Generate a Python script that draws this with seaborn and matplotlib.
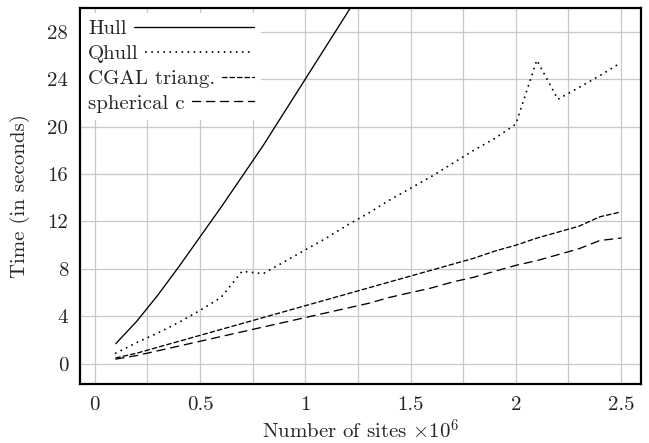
import matplotlib
matplotlib.use("Agg")
import matplotlib.pyplot as plt
import seaborn as sns
import pandas as pd
from matplotlib.ticker import MultipleLocator
from matplotlib.lines import Line2D

x_sites = [0.1, 0.2, 0.3, 0.4, 0.5, 0.6, 0.7, 0.8, 0.9, 1.0, 1.1, 1.2, 1.3,
           1.4, 1.5, 1.6, 1.7, 1.8, 1.9, 2.0, 2.1, 2.2, 2.3, 2.4, 2.5]
hull = [1.7, 3.6, 5.8, 8.2, 10.7, 13.2, 15.8, 18.4, 21.2, 24.0, 26.8, 29.6, 32.5]
qhull = [0.9, 1.8, 2.6, 3.5, 4.5, 5.6, 7.8, 7.6, 8.6, 9.6, 10.6, 11.7, 12.7,
         13.8, 14.8, 15.8, 16.9, 18.0, 19.0, 20.2, 25.6, 22.3, 23.3, 24.3, 25.4]
cgal = [0.5, 0.9, 1.4, 1.9, 2.4, 2.9, 3.4, 3.9, 4.4, 4.9, 5.4, 5.9, 6.4,
        6.9, 7.4, 7.9, 8.4, 8.9, 9.5, 10.0, 10.6, 11.1, 11.6, 12.4, 12.8]
spherical = [0.4, 0.7, 1.1, 1.5, 1.9, 2.3, 2.7, 3.1, 3.5, 3.9, 4.3, 4.7, 5.1,
             5.6, 6.0, 6.4, 6.9, 7.3, 7.8, 8.3, 8.7, 9.2, 9.7, 10.4, 10.6]
labels = ["Hull", "Qhull", "CGAL triang.", "spherical c"]
x_ticks = [0, 0.5, 1, 1.5, 2, 2.5]
x_tick_labels = ["0", "0.5", "1", "1.5", "2", "2.5"]
y_ticks = [0, 4, 8, 12, 16, 20, 24, 28]

FS = 15

sns.set_theme(style="white")
plt.rcParams["font.family"] = ["cmr10", "DejaVu Serif"]
plt.rcParams["mathtext.fontset"] = "cm"
plt.rcParams["axes.formatter.use_mathtext"] = True

fig = plt.figure(figsize=(6.49, 4.43), dpi=100)
ax = fig.add_axes([0.1233, 0.1332, 0.8644, 0.8488])

series = [hull, qhull, cgal, spherical]
lws = [0.95, 1.4, 0.95, 0.95]
styles = ["-", (0, (0.01, 3.1)), (0, (3.4, 2.3)), (0, (6.2, 4.4))]
for lab, vals, ls, lw in zip(labels, series, styles, lws):
    df = pd.DataFrame({"x": x_sites[:len(vals)], "y": vals})
    sns.lineplot(data=df, x="x", y="y", ax=ax, color="black", linewidth=lw,
                 linestyle=ls, label=lab, dash_capstyle="round")

ax.set_xlim(-0.07, 2.595)
ax.set_ylim(-1.7, 30)
ax.set_xticks(x_ticks)
ax.set_xticklabels(x_tick_labels)
ax.set_yticks(y_ticks)
ax.set_yticklabels([str(v) for v in y_ticks])
ax.xaxis.set_minor_locator(MultipleLocator(0.25))
ax.grid(True, which="both", axis="x", color="#c8c8c8", linewidth=0.9)
ax.grid(True, which="major", axis="y", color="#c8c8c8", linewidth=0.9)
ax.tick_params(axis="both", which="both", length=0, labelsize=FS, pad=8.5)
for s in ax.spines.values():
    s.set_color("black")
    s.set_linewidth(1.6)

ax.set_xlabel(r"Number of sites $\times10^6$", fontsize=FS, labelpad=3.5)
ax.set_ylabel("Time (in seconds)", fontsize=FS, labelpad=12.5)

leg = ax.legend(loc="upper left", bbox_to_anchor=(0.0, 0.99), markerfirst=False,
                frameon=True, fontsize=FS,
                handlelength=4.0, handletextpad=0.34, labelspacing=0.3,
                borderaxespad=0.05, borderpad=0.33, fancybox=False)
leg.get_frame().set_edgecolor("none")
leg.get_frame().set_facecolor("white")
leg.get_frame().set_alpha(1.0)

# left-align legend text, let each handle fill the rest of the row
fig.canvas.draw()
renderer = fig.canvas.get_renderer()
px_per_pt = fig.dpi / 72.0
total_px = 166.0
sep_px = FS * 0.34 * px_per_pt
for col in leg._legend_handle_box.get_children():
    col.align = "left"
    for item in col.get_children():
        text_box, handle_box = item.get_children()
        tw = text_box._text.get_window_extent(renderer).width
        hw_pt = max(total_px - tw - sep_px, 10) / px_per_pt
        handle_box.width = hw_pt
        for art in handle_box.get_children():
            if isinstance(art, Line2D):
                yv = list(art.get_ydata())[0]
                art.set_data([0, hw_pt], [yv, yv])

fig.savefig("out.png", dpi=100)
